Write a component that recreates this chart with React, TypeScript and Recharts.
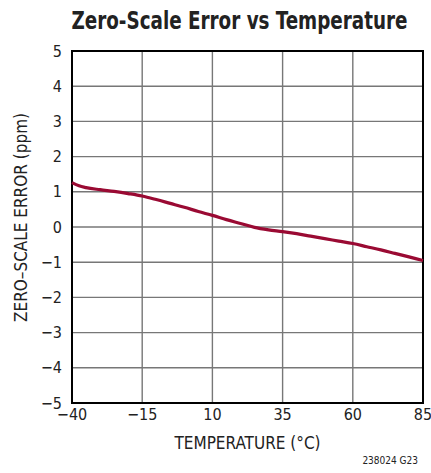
import React from "react";
import { LineChart, Line, XAxis, YAxis, CartesianGrid, ReferenceArea } from "recharts";

const temperatures = [-40, -37.5, -35, -30, -25, -20, -15, -10, -5, 0, 5, 10, 15, 20, 25, 30, 35, 40, 45, 50, 55, 60, 65, 70, 75, 80, 85];
const zeroScaleError = [1.26, 1.17, 1.12, 1.06, 1.01, 0.95, 0.88, 0.78, 0.67, 0.56, 0.44, 0.33, 0.21, 0.1, -0.01, -0.08, -0.13, -0.19, -0.26, -0.33, -0.4, -0.47, -0.56, -0.65, -0.75, -0.85, -0.95];
const xTicks = [-40, -15, 10, 35, 60, 85];
const yTicks = [-5, -4, -3, -2, -1, 0, 1, 2, 3, 4, 5];

const data = temperatures.map((t, i) => ({ t, v: zeroScaleError[i] }));

const FONT = "'Liberation Sans Narrow', 'DejaVu Sans Condensed', 'Roboto', sans-serif";
const fmt = (n: number) => (n < 0 ? "\u2212" + Math.abs(n) : String(n));

export default function App() {
  return (
    <div style={{ position: "absolute", left: 0, top: 0, width: 431, height: 473, background: "#fff", fontFamily: FONT, overflow: "hidden" }}>
      <div
        style={{
          position: "absolute",
          left: 24,
          top: 6,
          width: 431,
          textAlign: "center",
          fontSize: 25,
          fontWeight: "bold",
          color: "#222",
          fontFamily: FONT,
          transform: "scaleX(0.815)",
          transformOrigin: "center top",
          whiteSpace: "nowrap",
        }}
      >
        Zero-Scale Error vs Temperature
      </div>
      <LineChart width={431} height={473} data={data} margin={{ top: 51, right: 8, bottom: 40, left: 32 }}>
        <CartesianGrid stroke="#777" strokeWidth={1.4} vertical horizontal />
        <XAxis
          dataKey="t"
          type="number"
          domain={[-40, 85]}
          ticks={xTicks}
          tickFormatter={fmt}
          tickLine={false}
          tickSize={0}
          tickMargin={6}
          axisLine={false}
          height={30}
          tick={{ fill: "#222", fontSize: 16, fontFamily: FONT }}
          interval={0}
          label={{ value: "TEMPERATURE (°C)", position: "insideBottom", offset: -16, fill: "#222", fontSize: 17, fontFamily: FONT }}
        />
        <YAxis
          type="number"
          domain={[-5, 5]}
          ticks={yTicks}
          tickFormatter={fmt}
          tickLine={false}
          tickSize={0}
          tickMargin={10}
          axisLine={false}
          width={40}
          interval={0}
          tick={{ fill: "#222", fontSize: 16, fontFamily: FONT }}
          label={{ value: "ZERO–SCALE ERROR (ppm)", angle: -90, position: "insideLeft", offset: -32, dy: 95, dx: 21, fill: "#222", fontSize: 17, fontFamily: FONT }}
        />
        <Line dataKey="v" type="monotone" stroke="#9a0a33" strokeWidth={3.2} dot={false} isAnimationActive={false} />
        <ReferenceArea x1={-40} x2={85} y1={-5} y2={5} fill="none" stroke="#000" strokeWidth={2} ifOverflow="visible" />
      </LineChart>
      <div style={{ position: "absolute", left: 300, top: 455, width: 118, textAlign: "right", fontSize: 10, color: "#222", fontFamily: FONT }}>
        238024 G23
      </div>
    </div>
  );
}
